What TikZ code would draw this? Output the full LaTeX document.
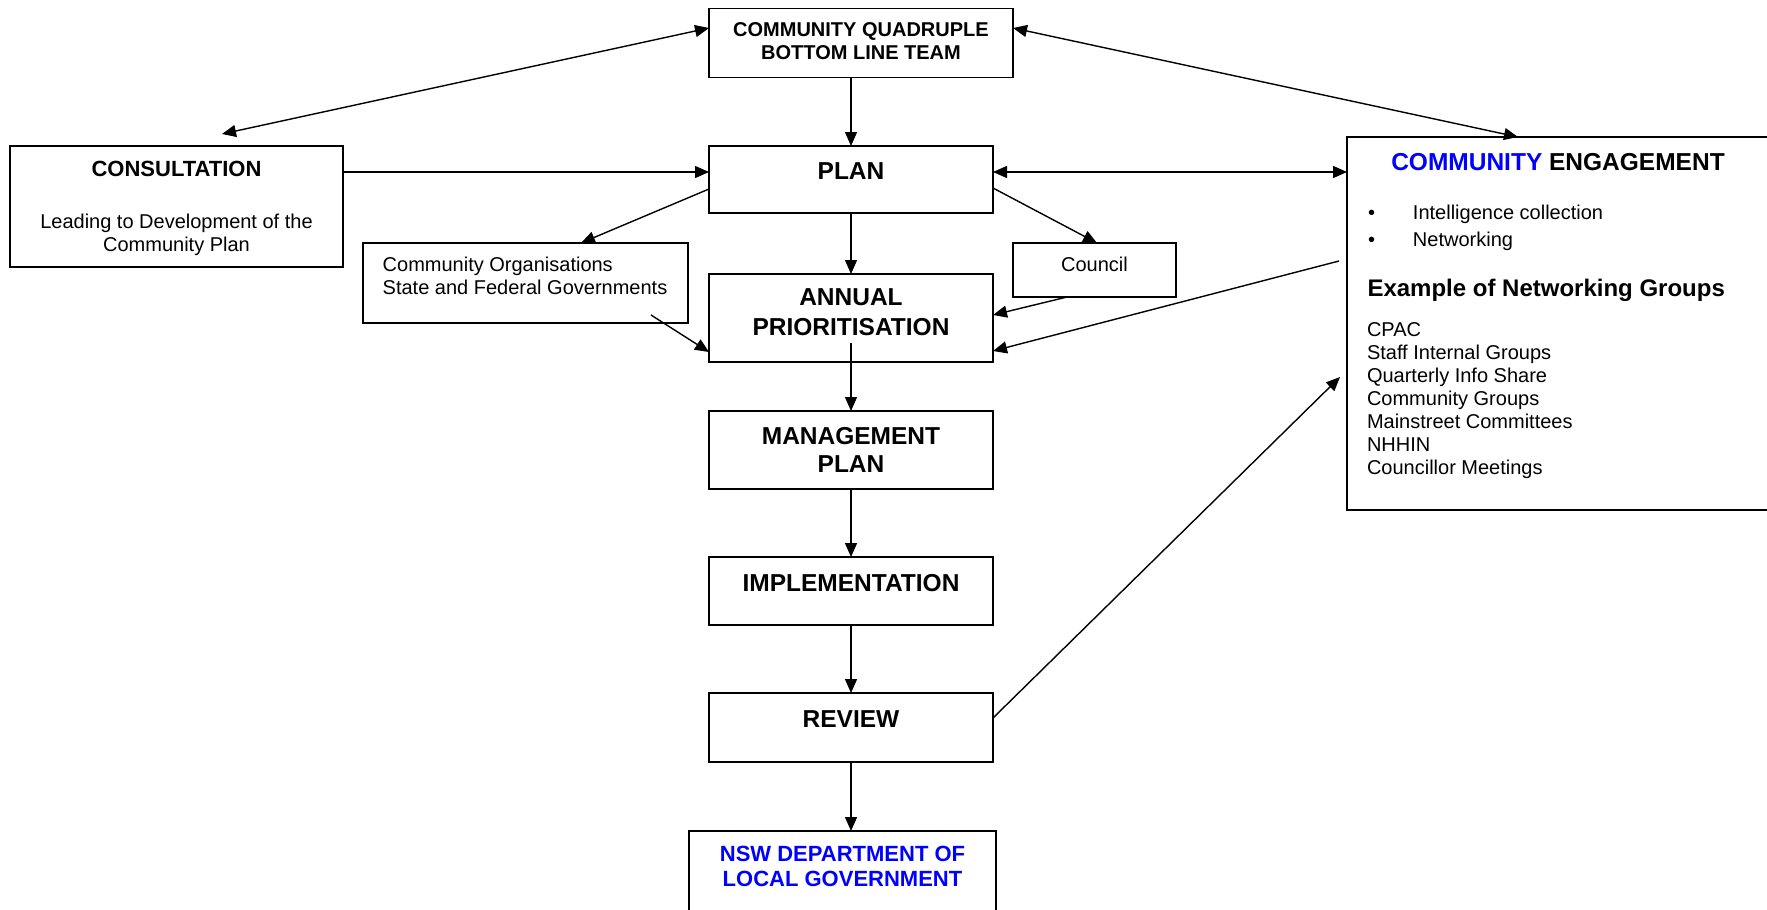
\documentclass[tikz,border=0pt]{standalone}
\usepackage{fontspec}
\setmainfont{Liberation Sans}
\usetikzlibrary{arrows.meta}
\definecolor{engblue}{RGB}{0,0,255}
\newcommand{\bigfont}{\fontsize{24.5}{29}\selectfont\bfseries}
\newcommand{\txtfont}{\fontsize{20}{23}\selectfont}
\newcommand{\boxtxt}[4]{\parbox[c][#2][t]{#1}{\vspace*{#3}#4}}
\begin{document}
\begin{tikzpicture}[x=1pt, y=-1pt,
    blk/.style={draw, line width=1.6pt, inner sep=0pt, outer sep=0pt},
    arr/.style={line width=1.4pt, -{Triangle[length=14pt,width=12pt]}},
    darr/.style={line width=1.4pt, {Triangle[length=14pt,width=12pt]}-{Triangle[length=14pt,width=12pt]}}]
\path[use as bounding box, fill=white] (0,0) rectangle (1767,910);

\node[blk] (Q) at (861,42.8) {\boxtxt{304pt}{69pt}{14.4pt}{\centering\fontsize{20}{23.3}\selectfont\bfseries COMMUNITY QUADRUPLE\\BOTTOM LINE TEAM\par}};
\node[blk] (C) at (176.5,206.5) {\boxtxt{333pt}{121pt}{15pt}{\centering{\fontsize{22}{26}\selectfont\bfseries CONSULTATION\par}\vspace{30pt}{\fontsize{20}{22.5}\selectfont Leading to Development of the\\Community Plan\par}}};
\node[blk] (P) at (851,179.5) {\boxtxt{284pt}{67pt}{16.5pt}{\centering\bigfont PLAN\par}};
\node[blk] (O) at (525.5,283) {\boxtxt{325pt}{80pt}{14pt}{\raggedright\leftskip=19.7pt\txtfont Community Organisations\\State and Federal Governments\par}};
\node[blk] (K) at (1094.5,270) {\boxtxt{163pt}{54pt}{14.4pt}{\centering\txtfont Council\par}};
\node[blk] (A) at (851,318) {\boxtxt{284pt}{88pt}{15pt}{\centering\fontsize{24.5}{30}\selectfont\bfseries ANNUAL\\PRIORITISATION\par}};
\node[blk] (E) at (1558,323.5) {\boxtxt{422pt}{373pt}{16pt}{%
  {\centering\bigfont\textcolor{engblue}{COMMUNITY} ENGAGEMENT\par}\raggedright
  \vspace{22.6pt}{\fontsize{20}{26.7}\selectfont\hspace*{21pt}\makebox[45pt][l]{\textbullet}Intelligence collection\\\hspace*{21pt}\makebox[45pt][l]{\textbullet}Networking\par}
  \vspace{22pt}{\leftskip=20.5pt\fontsize{24}{28}\selectfont\bfseries Example of Networking Groups\par}
  \vspace{17pt}{\leftskip=20pt\txtfont CPAC\\Staff Internal Groups\\Quarterly Info Share\\Community Groups\\Mainstreet Committees\\NHHIN\\Councillor Meetings\par}}};
\node[blk] (M) at (851,450) {\boxtxt{284pt}{78pt}{16.5pt}{\centering\fontsize{24.5}{28.3}\selectfont\bfseries MANAGEMENT\\PLAN\par}};
\node[blk] (I) at (851,591) {\boxtxt{284pt}{68pt}{17pt}{\centering\bigfont IMPLEMENTATION\par}};
\node[blk] (R) at (851,727.5) {\boxtxt{284pt}{69pt}{18pt}{\centering\bigfont REVIEW\par}};
\node[blk] (N) at (842.5,886) {\boxtxt{307pt}{110pt}{15pt}{\centering\fontsize{22}{25}\selectfont\bfseries\color{engblue}NSW DEPARTMENT OF\\LOCAL GOVERNMENT\par}};

\coordinate (c1) at (222,134);
\coordinate (o1) at (651,315);
\coordinate (e1) at (1339,261);
\coordinate (e2) at (1340,377);
\coordinate (a1) at (851,343);

\draw[darr] (c1) -- (Q.west |- 0,28);
\draw[darr] (Q.east |- 0,28) -- (E.north -| 1518,0);
\draw[arr] (Q.south -| P.north) -- (P.north);
\draw[arr] (C.east |- 0,172) -- (P.west |- 0,172);
\draw[darr] (P.east |- 0,172) -- (E.west |- 0,172);
\draw[arr] (P.west |- 0,189) -- (O.north -| 581,0);
\draw[arr] (o1) -- (A.west |- 0,352);
\draw[arr] (P.south) -- (A.north);
\draw[arr] (P.east |- 0,188) -- (K.north -| 1097,0);
\draw[arr] (K.south -| 1067,0) -- (A.east |- 0,315);
\draw[arr] (e1) -- (A.east |- 0,351);
\draw[arr] (a1) -- (M.north);
\draw[arr] (M.south) -- (I.north);
\draw[arr] (I.south) -- (R.north);
\draw[arr] (R.south) -- (R.south |- N.north);
\draw[arr] (R.east |- 0,718) -- (e2);
\end{tikzpicture}
\end{document}
